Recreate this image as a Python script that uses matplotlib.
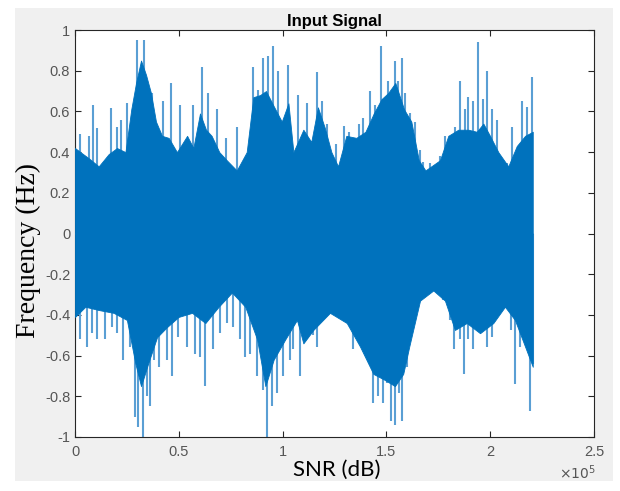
import numpy as np
import matplotlib.pyplot as plt
from matplotlib.patches import Rectangle

# sample index in units of 1e5, amplitude
top_x = [0.000, 0.026, 0.066, 0.114, 0.162, 0.202, 0.243, 0.271, 0.294, 0.318,
         0.342, 0.366, 0.390, 0.419, 0.451, 0.491, 0.540, 0.570, 0.602, 0.631,
         0.658, 0.695, 0.731, 0.779, 0.827, 0.859, 0.891, 0.920, 0.955, 0.996,
         1.028, 1.052, 1.100, 1.138, 1.170, 1.203, 1.235, 1.267, 1.307, 1.355,
         1.399, 1.439, 1.476, 1.508, 1.543, 1.585, 1.620, 1.656, 1.688, 1.758,
         1.798, 1.846, 1.895, 1.935, 1.967, 1.999, 2.039, 2.087, 2.128, 2.168,
         2.205]
top_val = [0.42, 0.40, 0.37, 0.33, 0.39, 0.42, 0.40, 0.61, 0.74, 0.85,
           0.78, 0.69, 0.55, 0.48, 0.47, 0.40, 0.48, 0.42, 0.59, 0.51,
           0.48, 0.40, 0.36, 0.31, 0.40, 0.67, 0.68, 0.70, 0.63, 0.55,
           0.64, 0.40, 0.51, 0.45, 0.62, 0.52, 0.40, 0.33, 0.48, 0.47,
           0.50, 0.59, 0.66, 0.69, 0.74, 0.61, 0.55, 0.36, 0.31, 0.36,
           0.48, 0.51, 0.51, 0.50, 0.54, 0.48, 0.40, 0.33, 0.43, 0.48,
           0.50]

bot_x = [0.000, 0.050, 0.114, 0.186, 0.250, 0.291, 0.318, 0.352, 0.395, 0.443,
         0.499, 0.564, 0.628, 0.692, 0.756, 0.820, 0.877, 0.917, 0.957, 1.013,
         1.069, 1.100, 1.148, 1.228, 1.309, 1.373, 1.437, 1.493, 1.541, 1.581,
         1.610, 1.662, 1.726, 1.782, 1.830, 1.887, 1.951, 2.015, 2.071, 2.119,
         2.168, 2.205]
bot_val = [-0.41, -0.36, -0.376, -0.39, -0.425, -0.64, -0.75, -0.64, -0.51, -0.46,
           -0.41, -0.39, -0.44, -0.36, -0.29, -0.36, -0.52, -0.75, -0.62, -0.52,
           -0.425, -0.54, -0.474, -0.39, -0.44, -0.556, -0.69, -0.72, -0.75, -0.69,
           -0.556, -0.33, -0.28, -0.33, -0.474, -0.44, -0.49, -0.44, -0.36, -0.425,
           -0.556, -0.655]

up_x = [0.000, 0.024, 0.069, 0.085, 0.108, 0.172, 0.201, 0.220, 0.252, 0.297,
        0.332, 0.345, 0.369, 0.422, 0.461, 0.506, 0.570, 0.610, 0.642, 0.686,
        0.727, 0.779, 0.856, 0.883, 0.907, 0.931, 0.952, 0.979, 1.027, 1.076,
        1.116, 1.164, 1.188, 1.212, 1.257, 1.296, 1.321, 1.341, 1.370, 1.389,
        1.421, 1.445, 1.472, 1.485, 1.509, 1.541, 1.557, 1.574, 1.590, 1.614,
        1.638, 1.662, 1.678, 1.710, 1.758, 1.782, 1.806, 1.830, 1.855, 1.879,
        1.895, 1.919, 1.940, 1.964, 1.983, 2.007, 2.031, 2.063, 2.082, 2.106,
        2.128, 2.152, 2.176, 2.200]
up_val = [0.52, 0.49, 0.48, 0.63, 0.52, 0.615, 0.525, 0.56, 0.64, 0.95,
          0.95, 0.75, 0.69, 0.65, 0.74, 0.63, 0.63, 0.82, 0.69, 0.61,
          0.47, 0.525, 0.82, 0.705, 0.86, 0.87, 0.92, 0.80, 0.83, 0.68,
          0.64, 0.795, 0.65, 0.54, 0.44, 0.53, 0.50, 0.46, 0.54, 0.57,
          0.70, 0.63, 0.92, 0.66, 0.75, 0.85, 0.75, 0.86, 0.69, 0.59,
          0.55, 0.41, 0.35, 0.345, 0.38, 0.48, 0.475, 0.525, 0.75, 0.61,
          0.67, 0.65, 0.94, 0.66, 0.80, 0.61, 0.56, 0.36, 0.345, 0.525,
          0.36, 0.65, 0.62, 0.77]

lo_x = [0.000, 0.024, 0.059, 0.080, 0.104, 0.145, 0.177, 0.204, 0.230, 0.265,
        0.289, 0.305, 0.326, 0.345, 0.361, 0.381, 0.406, 0.442, 0.466, 0.498,
        0.538, 0.578, 0.602, 0.626, 0.666, 0.698, 0.730, 0.762, 0.795, 0.819,
        0.843, 0.875, 0.907, 0.923, 0.947, 0.971, 1.003, 1.035, 1.051, 1.084,
        1.116, 1.148, 1.164, 1.204, 1.236, 1.268, 1.301, 1.325, 1.341, 1.373,
        1.405, 1.434, 1.461, 1.482, 1.501, 1.521, 1.541, 1.562, 1.574, 1.598,
        1.622, 1.646, 1.750, 1.774, 1.806, 1.826, 1.855, 1.874, 1.895, 1.919,
        1.951, 1.983, 2.007, 2.031, 2.079, 2.099, 2.119, 2.144, 2.168, 2.192,
        2.205]
lo_val = [-0.59, -0.52, -0.556, -0.49, -0.52, -0.52, -0.46, -0.49, -0.62, -0.556,
          -0.90, -0.95, -1.0, -0.80, -0.85, -0.62, -0.655, -0.62, -0.70, -0.51,
          -0.556, -0.59, -0.605, -0.75, -0.57, -0.49, -0.44, -0.46, -0.52, -0.605,
          -0.59, -0.70, -0.77, -1.0, -0.85, -0.785, -0.70, -0.62, -0.57, -0.70,
          -0.52, -0.50, -0.556, -0.376, -0.34, -0.31, -0.41, -0.376, -0.57, -0.474,
          -0.52, -0.834, -0.80, -0.834, -0.736, -0.92, -0.94, -0.785, -0.92, -0.655,
          -0.41, -0.26, -0.26, -0.327, -0.425, -0.57, -0.52, -0.69, -0.52, -0.57,
          -0.425, -0.556, -0.507, -0.36, -0.327, -0.474, -0.74, -0.556, -0.52, -0.87,
          -0.64]

y_ticks = [-1, -0.8, -0.6, -0.4, -0.2, 0, 0.2, 0.4, 0.6, 0.8, 1]
y_labels = ['-1', '-0.8', '-0.6', '-0.4', '-0.2', '0', '0.2', '0.4', '0.6', '0.8', '1']
x_ticks = [0, 0.5, 1, 1.5, 2, 2.5]
x_labels = ['0', '0.5', '1', '1.5', '2', '2.5']

blue = '#0072bd'
light = '#5a9fd4'
tick_col = '#555555'

fig = plt.figure(figsize=(6.2, 4.91), dpi=100)
fig.patch.set_facecolor('white')
fig.patches.append(Rectangle((15/620, 1-481/491), 598/620, 473/491,
                             transform=fig.transFigure, facecolor='#f0f0f0',
                             edgecolor='none', zorder=-1))
ax = fig.add_axes([75/620, 1-437/491, 519/620, 407/491])

# light spikes behind, dense dark body on top
ax.vlines(up_x, 0, up_val, color=light, linewidth=1.5, zorder=2)
ax.vlines(lo_x, 0, lo_val, color=light, linewidth=1.5, zorder=2)
ax.fill_between(top_x, 0, top_val, color=blue, linewidth=0.6, edgecolor=blue, zorder=3)
ax.fill_between(bot_x, bot_val, 0, color=blue, linewidth=0.6, edgecolor=blue, zorder=3)

ax.set_xlim(0, 2.5)
ax.set_ylim(-1, 1)
ax.set_xticks(x_ticks)
ax.set_xticklabels(x_labels)
ax.set_yticks(y_ticks)
ax.set_yticklabels(y_labels)
ax.tick_params(direction='in', top=True, right=True, length=4, width=0.8,
               colors='#262626', labelcolor=tick_col, labelsize=10.5)
ax.tick_params(axis='x', pad=6)
for s in ax.spines.values():
    s.set_color('#262626')
    s.set_linewidth(0.8)

ax.set_title('Input Signal', fontsize=12, fontweight='bold',
             family='Liberation Sans', pad=3)
for lab in ax.get_xticklabels() + ax.get_yticklabels():
    lab.set_family('Liberation Sans')

fig.text(577/620, 1-473/491, r'$\times10^5$', fontsize=10, color=tick_col,
         ha='center', va='center')
fig.text(337/620, 1-470/491, 'SNR (dB)', fontsize=16, family='Lato',
         ha='center', va='center')
fig.text(28/620, 1-250/491, 'Frequency (Hz)', fontsize=20,
         family='Liberation Serif', rotation=90, ha='center', va='center')

fig.savefig('out.png', dpi=100)
